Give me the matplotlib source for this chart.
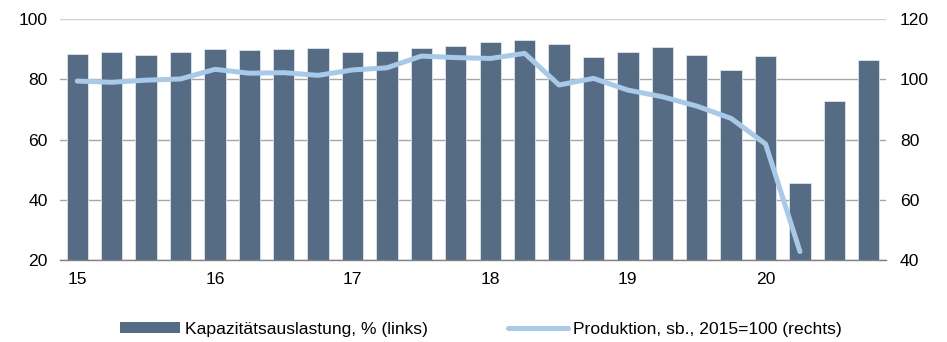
import numpy as np
import matplotlib
matplotlib.use("Agg")
import matplotlib.pyplot as plt
from matplotlib.patches import Patch
from matplotlib.lines import Line2D

plt.rcParams["font.family"] = ["Liberation Sans", "DejaVu Sans"]
plt.rcParams["font.size"] = 12.6

# quarterly data, 2015 Q1 .. 2020 Q4
year_labels = ["15", "16", "17", "18", "19", "20"]
auslastung = [88.3, 88.9, 87.9, 89.2, 89.9, 89.7, 89.9, 90.3, 89.0, 89.3, 90.4, 90.9,
              92.5, 93.0, 91.7, 87.3, 89.2, 90.7, 88.0, 83.1, 87.7, 45.4, 72.9, 86.3]
produktion = [99.4, 99.0, 99.7, 100.1, 103.3, 102.0, 102.2, 101.3, 103.1, 103.8, 107.7, 107.2,
              106.9, 108.6, 98.1, 100.3, 96.4, 94.2, 91.1, 87.0, 78.5, 42.8]

bar_color = "#566c84"
line_color = "#a9c9e8"

fig = plt.figure(figsize=(9.47, 3.42), dpi=100)
ax = fig.add_axes([0.0634, 0.2398, 0.8722, 0.7046])

x = np.arange(len(auslastung))
ax.bar(x, np.array(auslastung) - 20, bottom=20, width=0.62, color=bar_color,
       edgecolor="#dfe4ea", linewidth=0.6, zorder=3)
ax.set_xlim(-0.5, len(auslastung) - 0.5)
ax.set_ylim(20, 100)
ax.set_yticks([20, 40, 60, 80, 100])
ax.set_xticks(np.arange(0, 24, 4))
ax.set_xticklabels(year_labels)
ax.tick_params(axis="x", length=0, pad=9)
ax.tick_params(axis="y", length=0, pad=9)
ax.grid(axis="y", color="#a6a6a6", linewidth=1.0, zorder=0)
ax.yaxis.get_gridlines()[-1].set_color("#d0d0d0")
for s in ["top", "right", "left"]:
    ax.spines[s].set_visible(False)
ax.spines["bottom"].set_color("#808080")
ax.spines["bottom"].set_linewidth(1.0)
ax.spines["bottom"].set_zorder(4)

ax2 = ax.twinx()
ax2.plot(np.arange(len(produktion)), produktion, color=line_color, linewidth=3.6,
         solid_capstyle="round", solid_joinstyle="round")
ax2.set_ylim(40, 120)
ax2.set_yticks([40, 60, 80, 100, 120])
ax2.tick_params(axis="y", length=0, pad=10)
for s in ax2.spines.values():
    s.set_visible(False)

handles = [Patch(facecolor=bar_color, edgecolor="none"),
           Line2D([0], [0], color=line_color, linewidth=3.6, solid_capstyle="round")]
labels = ["Kapazitätsauslastung, % (links)", "Produktion, sb., 2015=100 (rechts)"]
fig.legend(handles, labels, loc="lower center", bbox_to_anchor=(0.508, -0.03), ncol=2,
           frameon=False, handlelength=3.4, handletextpad=0.3, columnspacing=4.6,
           handleheight=0.6)

fig.savefig("out.png", dpi=100)
